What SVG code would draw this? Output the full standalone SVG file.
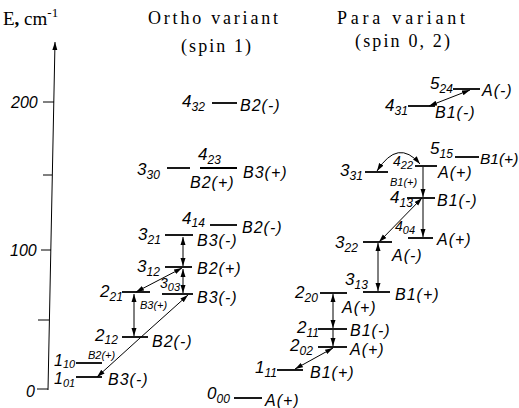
<svg xmlns="http://www.w3.org/2000/svg" width="519" height="408" viewBox="0 0 519 408">
<style>
.lv{stroke:#000;stroke-width:1.8;fill:none}
.cn{stroke:#000;stroke-width:1;fill:none}
.sym{font-family:"Liberation Sans",Arial,sans-serif;font-style:italic;font-size:16px;letter-spacing:1px;fill:#000}
.sm{font-family:"Liberation Sans",Arial,sans-serif;font-style:italic;font-size:11px;fill:#000}
.q{font-family:"Liberation Sans",Arial,sans-serif;font-style:italic;font-size:17px;fill:#000}
.q tspan{font-size:12px}
.qs{font-family:"Liberation Sans",Arial,sans-serif;font-style:italic;font-size:14px;fill:#000}
.qs tspan{font-size:11px}
.ttl{font-family:"Liberation Serif","Times New Roman",serif;font-size:18px;fill:#000}
.ax{font-family:"Liberation Sans",Arial,sans-serif;font-style:italic;font-size:16px;fill:#000}
</style>
<defs>
<marker id="ah" markerUnits="userSpaceOnUse" markerWidth="9" markerHeight="6" refX="8" refY="3" orient="auto-start-reverse">
<path d="M0,0.5 L8,3 L0,5.5 z" fill="#000"/>
</marker>
</defs>

<g id="axis">
<path class="cn" d="M55,42 L48,390" stroke-width="1.3" marker-start="url(#ah)"/>
<path class="cn" d="M43,102 H54 M43,175 H52 M41,250 H51 M38,320 H49 M37,389 H48" stroke-width="1.3"/>
<text class="ax" x="11" y="108">200</text>
<text class="ax" x="10" y="256">100</text>
<text class="ax" x="26" y="397">0</text>
<text class="ttl" x="3" y="25" style="font-size:19px">E<tspan font-weight="bold">,</tspan> cm<tspan dy="-8" style="font-size:13px">-1</tspan></text>
</g>

<g id="titles">
<text class="ttl" x="148" y="24" textLength="130">Ortho  variant</text>
<text class="ttl" x="181" y="52" textLength="70">(spin 1)</text>
<text class="ttl" x="337" y="24" textLength="128">Para variant</text>
<text class="ttl" x="355" y="47" textLength="95">(spin 0, 2)</text>
</g>

<g id="connectors">
<path class="cn" d="M140,338 L97,377" marker-end="url(#ah)"/>
<path class="cn" d="M140,338 L188,295" marker-end="url(#ah)"/>
<path class="cn" d="M134,294 V336" marker-start="url(#ah)" marker-end="url(#ah)"/>
<path class="cn" d="M182,268 L136,292" marker-start="url(#ah)" marker-end="url(#ah)"/>
<path class="cn" d="M183,269 V293" marker-start="url(#ah)" marker-end="url(#ah)"/>
<path class="cn" d="M183,237 V266" marker-start="url(#ah)" marker-end="url(#ah)"/>
<path class="cn" d="M333,348 L295,369" marker-start="url(#ah)" marker-end="url(#ah)"/>
<path class="cn" d="M333,294 V328" marker-start="url(#ah)" marker-end="url(#ah)"/>
<path class="cn" d="M333,330 V346" marker-end="url(#ah)"/>
<path class="cn" d="M378,243 V291" marker-start="url(#ah)" marker-end="url(#ah)"/>
<path class="cn" d="M422,198 L379,242" marker-start="url(#ah)" marker-end="url(#ah)"/>
<path class="cn" d="M423,167 V197" marker-end="url(#ah)"/>
<path class="cn" d="M423,199 V237" marker-end="url(#ah)"/>
<path class="cn" d="M377,171 Q398,138 420,164" marker-start="url(#ah)" marker-end="url(#ah)"/>
<path class="cn" d="M470,90 L429,106" marker-start="url(#ah)" marker-end="url(#ah)"/>
</g>

<g id="L101"><path class="lv" d="M76,377 H102"/><text class="q" x="54" y="384" style="font-size:16px">1<tspan dy="3" style="font-size:11px">01</tspan></text><text class="sym" x="108" y="385">B3(-)</text></g>
<g id="L110"><path class="lv" d="M76,363 H102"/><text class="q" x="54" y="366" style="font-size:16px">1<tspan dy="2" style="font-size:11px">10</tspan></text><text class="sm" x="88" y="359">B2(+)</text></g>
<g id="L212"><path class="lv" d="M122,337 H148"/><text class="q" x="95" y="341">2<tspan dy="3">12</tspan></text><text class="sym" x="152" y="347">B2(-)</text></g>
<g id="L221"><path class="lv" d="M122,292 H150"/><text class="q" x="100" y="297">2<tspan dy="4">21</tspan></text><text class="sm" x="140" y="309">B3(+)</text></g>
<g id="L303"><path class="lv" d="M162,294 H193"/><text class="qs" x="160" y="288">3<tspan dy="3">03</tspan></text><text class="sym" x="197" y="303">B3(-)</text></g>
<g id="L312"><path class="lv" d="M165,267 H192"/><text class="q" x="137" y="272">3<tspan dy="4">12</tspan></text><text class="sym" x="197" y="274">B2(+)</text></g>
<g id="L321"><path class="lv" d="M165,235 H193"/><text class="q" x="138" y="240">3<tspan dy="4">21</tspan></text><text class="sym" x="197" y="246">B3(-)</text></g>
<g id="L414"><path class="lv" d="M210,225 H237"/><text class="q" x="182" y="224">4<tspan dy="3">14</tspan></text><text class="sym" x="242" y="233">B2(-)</text></g>
<g id="L330"><path class="lv" d="M167,168 H190"/><text class="q" x="137" y="175">3<tspan dy="4">30</tspan></text></g>
<g id="L423"><path class="lv" d="M200,168 H237"/><text class="q" x="198" y="160">4<tspan dy="4">23</tspan></text><text class="sym" x="190" y="188">B2(+)</text><text class="sym" x="243" y="178">B3(+)</text></g>
<g id="L432"><path class="lv" d="M212,103 H237"/><text class="q" x="182" y="107">4<tspan dy="4">32</tspan></text><text class="sym" x="240" y="111">B2(-)</text></g>

<g id="L000"><path class="lv" d="M234,398 H262"/><text class="q" x="207" y="399">0<tspan dy="4">00</tspan></text><text class="sym" x="265" y="406">A(+)</text></g>
<g id="L111"><path class="lv" d="M277,370 H303"/><text class="q" x="255" y="373">1<tspan dy="4">11</tspan></text><text class="sym" x="310" y="378">B1(+)</text></g>
<g id="L202"><path class="lv" d="M318,347 H347"/><text class="q" x="290" y="351">2<tspan dy="4">02</tspan></text><text class="sym" x="350" y="355">A(+)</text></g>
<g id="L211"><path class="lv" d="M318,329 H347"/><text class="q" x="297" y="333">2<tspan dy="4">11</tspan></text><text class="sym" x="350" y="336">B1(-)</text></g>
<g id="L220"><path class="lv" d="M320,293 H347"/><text class="q" x="295" y="298">2<tspan dy="4">20</tspan></text><text class="sym" x="342" y="313">A(+)</text></g>
<g id="L313"><path class="lv" d="M363,292 H390"/><text class="q" x="345" y="285">3<tspan dy="4">13</tspan></text><text class="sym" x="395" y="300">B1(+)</text></g>
<g id="L322"><path class="lv" d="M363,242 H392"/><text class="q" x="335" y="248">3<tspan dy="4">22</tspan></text><text class="sym" x="392" y="261">A(-)</text></g>
<g id="L404"><path class="lv" d="M408,238 H433"/><text class="qs" x="395" y="231">4<tspan dy="3">04</tspan></text><text class="sym" x="437" y="245">A(+)</text></g>
<g id="L413"><path class="lv" d="M407,198 H435"/><text class="q" x="390" y="203">4<tspan dy="4">13</tspan></text><text class="sym" x="437" y="206">B1(-)</text></g>
<g id="L422"><path class="lv" d="M415,166 H437"/><text class="qs" x="393" y="166">4<tspan dy="3">22</tspan></text><text class="sym" x="438" y="178">A(+)</text><text class="sm" x="390" y="186">B1(+)</text></g>
<g id="L331"><path class="lv" d="M365,172 H388"/><text class="q" x="340" y="176">3<tspan dy="4">31</tspan></text></g>
<g id="L515"><path class="lv" d="M455,157 H479"/><text class="q" x="430" y="154">5<tspan dy="4">15</tspan></text><text class="sym" x="480" y="164" style="font-size:15.5px;letter-spacing:0">B1(+)</text></g>
<g id="L524"><path class="lv" d="M453,89 H480"/><text class="q" x="430" y="89">5<tspan dy="4">24</tspan></text><text class="sym" x="482" y="96">A(-)</text></g>
<g id="L431"><path class="lv" d="M408,106 H435"/><text class="q" x="385" y="111">4<tspan dy="4">31</tspan></text><text class="sym" x="435" y="118">B1(-)</text></g>
</svg>
